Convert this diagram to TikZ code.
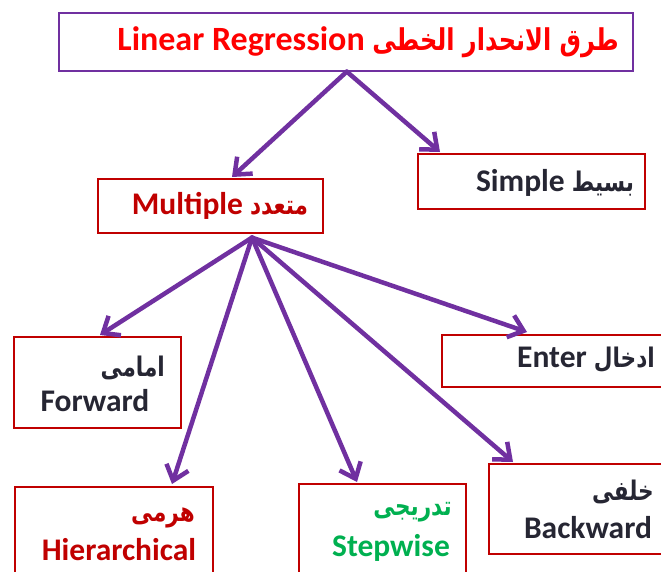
\documentclass[tikz,border=0pt]{standalone}
\usepackage{fontspec}
\setmainfont{Carlito}
\newfontfamily\arabicfont[Script=Arabic]{DejaVu Sans}
\TeXXeTstate=1
\usetikzlibrary{arrows.meta,calc}
\definecolor{arrowpurple}{HTML}{7030A0}
\definecolor{boxred}{HTML}{C00000}
\definecolor{labelgray}{HTML}{262633}
\definecolor{stepgreen}{HTML}{00B050}
\definecolor{titlered}{HTML}{FF0000}
% Arabic run, bold, set a little condensed (direction given by the caller)
\newcommand{\arsz}[2]{\scalebox{0.8}[1]{\arabicfont\bfseries\fontsize{#1}{#1}\selectfont #2}}
\newcommand{\ar}[1]{\arsz{27}{\beginR #1\endR}}
\begin{document}
\begin{tikzpicture}[x=1pt,y=-1pt,
  box/.style={draw=boxred, line width=1.6pt, inner sep=0pt, anchor=north west},
  titlebox/.style={box, draw=arrowpurple},
  lbl/.style={font=\bfseries\fontsize{31.5}{36}\selectfont, inner sep=0pt},
  arlbl/.style={inner sep=0pt},
  conn/.style={draw=arrowpurple, line width=4.5pt, line cap=round, line join=round,
    -{Straight Barb[length=14pt,width=23pt]}}
]
\useasboundingbox (0,0) rectangle (661,571);
\clip (0,0) rectangle (661,571);

% boxes
\node[titlebox, minimum width=574pt, minimum height=58pt] (title) at (58,12) {};
\node[box, minimum width=225pt, minimum height=54pt] (mult) at (97,178) {};
\node[box, minimum width=227pt, minimum height=55pt] (simple) at (417,153) {};
\node[box, minimum width=167pt, minimum height=91pt] (fwd) at (13,336) {};
\node[box, minimum width=240pt, minimum height=52pt] (enter) at (441,334) {};
\node[box, minimum width=198pt, minimum height=100pt] (hier) at (14,486) {};
\node[box, minimum width=167pt, minimum height=100pt] (step) at (298,483) {};
\node[box, minimum width=190pt, minimum height=90pt] (back) at (488,463) {};

% labels
\node[lbl, font=\bfseries\fontsize{34}{38}\selectfont, text=titlered] (titletxt) at (368,42)
  {Linear Regression \arsz{30}{\beginR طرق الانحدار الخطى\endR}};
\node[lbl, text=boxred] (multtxt) at (220,206) {Multiple \ar{متعدد}};
\node[lbl, text=labelgray] (simpletxt) at (555,183) {Simple \ar{بسيط}};
\node[lbl, text=labelgray] (entertxt) at (586,360) {Enter \ar{ادخال}};

\node[arlbl, text=labelgray, anchor=east] (fwdar) at (165,368) {\ar{امامى}};
\node[lbl, text=labelgray] (fwdtxt) at (95,401) {Forward};

\node[arlbl, text=boxred, anchor=east] (hierar) at (195,518) {\ar{هرمى}};
\node[lbl, text=boxred] (hiertxt) at (119,550) {Hierarchical};

\node[arlbl, text=stepgreen, anchor=east] (stepar) at (452,512) {\ar{تدريجى}};
\node[lbl, text=stepgreen] (steptxt) at (391,548) {Stepwise};

\node[arlbl, text=labelgray, anchor=east] (backar) at (654,492) {\ar{خلفى}};
\node[lbl, text=labelgray] (backtxt) at (588,528) {Backward};

% connectors
\coordinate (tsrc) at ($(title.south)+(1,0)$);
\coordinate (msrc) at ($(mult.south west)+(155,4)$);
\draw[conn] (tsrc) -- ($(mult.north west)+(135,-1)$);
\draw[conn] (tsrc) -- ($(simple.north west)+(23,-1)$);
\draw[conn] (msrc) -- ($(fwd.north west)+(87,-1)$);
\draw[conn] (msrc) -- ($(hier.north west)+(158,-2)$);
\draw[conn] (msrc) -- ($(step.north west)+(59,-1)$);
\draw[conn] (msrc) -- ($(back.north west)+(25,-1)$);
\draw[conn] (msrc) -- ($(enter.north west)+(86,-2)$);
\end{tikzpicture}
\end{document}
